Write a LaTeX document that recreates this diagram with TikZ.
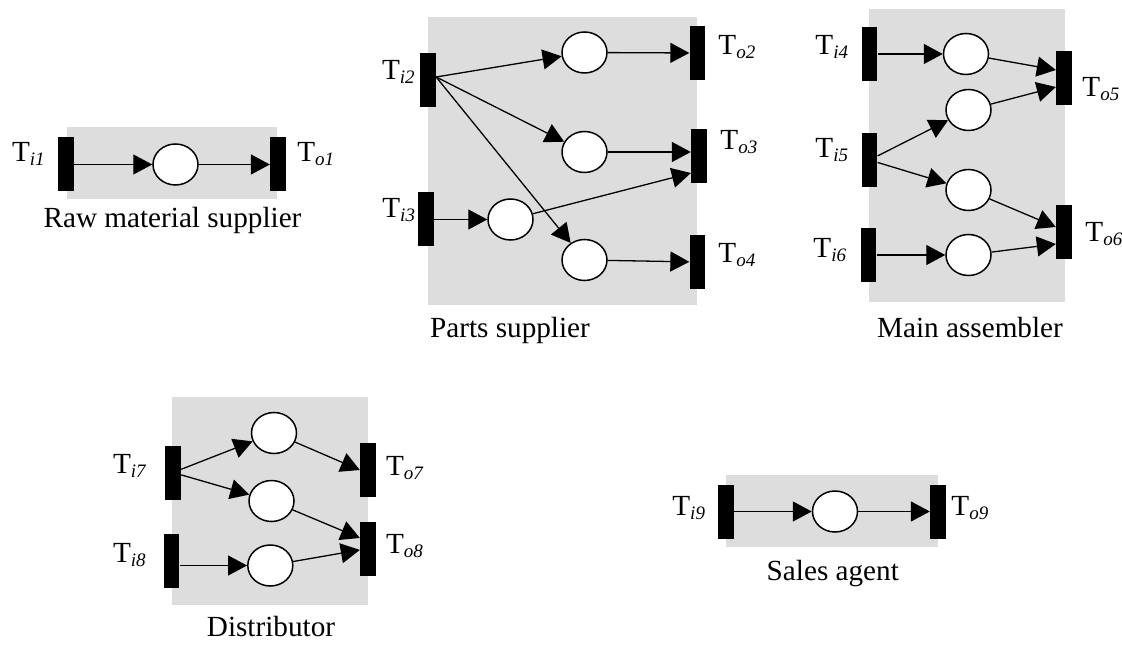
\documentclass[tikz,border=0pt]{standalone}
\usepackage{fontspec}
\setmainfont{Liberation Serif}
\usepackage{tikz}
\usetikzlibrary{arrows.meta,calc,shapes.geometric}
\definecolor{panelgray}{HTML}{DDDDDD}
\newcommand\subix[1]{\raisebox{-2pt}{\fontsize{9.5}{10}\selectfont\itshape #1}}
\tikzset{
  bar/.style={fill=black,draw=none,minimum width=7.75pt,minimum height=27pt,inner sep=0pt},
  place/.style={ellipse,draw,fill=white,line width=0.75pt,minimum width=22.5pt,minimum height=20.5pt,inner sep=0pt},
  flowarc/.style={-{Triangle[length=9.5pt,width=10pt]},line width=0.65pt},
  tlabel/.style={anchor=base west,inner sep=0pt},
  caption/.style={anchor=base,inner sep=0pt}
}

\begin{document}
\begin{tikzpicture}[x=0.5pt,y=-0.5pt,font=\fontsize{14.6}{17}\selectfont]
\useasboundingbox (0,0) rectangle (1122,646);
\fill[panelgray] (66.7,126.7) rectangle (276.7,199.3);
\fill[panelgray] (428.3,16.7) rectangle (696.7,305);
\fill[panelgray] (869,9) rectangle (1065,302);
\fill[panelgray] (171.7,396.7) rectangle (368.3,605);
\fill[panelgray] (726.4,475) rectangle (938,547.3);
\foreach \n/\x/\y in {ti1/66/164.5,to1/278/164.5,
  ti2/428/80,ti3/426/219.5,to2/697.5/53,to3/699/156,to4/697.5/262,
  ti4/869.5/54,ti5/869.5/160,ti6/868.5/255,to5/1064/78.5,to6/1064/232,
  ti7/173/472.5,ti8/171.5/560.5,to7/368/470,to8/368/548.5,
  ti9/726/511.5,to9/938/511.5}
  \node[bar] (\n) at (\x,\y) {};
\foreach \n/\x/\y in {p1/175.5/164.5,
  po2/584.5/52.5,po3/584.5/152,pi3/510.5/219.5,po4/584.5/260,
  p4/966/54,p5a/968.5/110,p5b/968.5/190,p6/968.5/255,
  p7a/274/433,p7b/271.5/501,p8/270.3/565.5,
  p9/835/511.5}
  \node[place] (\n) at (\x,\y) {};
\foreach \s/\x/\y in {i1/11.7/162,o1/297/162,i2/381.7/80,i3/382/218,
  o2/718/55,o3/720/150,o4/718/263,i4/815/55,i5/815/158,i6/813/257,
  o5/1082/97,o6/1085/242,i7/112.6/473,i8/112.6/562,o7/385.6/475,
  o8/385.6/553,i9/672/515,o9/951/515}
  \node[tlabel] (lab\s) at (\x,\y) {T\subix{\s}};
\node[caption] (raw) at (172.5,228) {Raw material supplier};
\node[caption] (parts) at (510,337) {Parts supplier};
\node[caption] (main) at (970,337) {Main assembler};
\node[caption] (dist) at (271,636) {Distributor};
\node[caption] (sales) at (832.8,580) {Sales agent};
\coordinate (s2) at ($(ti2.east)+(0,-3)$);
\foreach \a/\b in {ti1/p1,p1/to1,s2/po2,s2/po3,s2/po4,ti3/pi3,po2/to2,po4/to4,
  ti4/p4,ti5/p5a,ti5/p5b,ti6/p6,ti7/p7a,ti7/p7b,p8/to8,ti9/p9,p9/to9}
  \draw[flowarc] (\a) -- (\b);
\draw[flowarc] (po3) -- (po3 -| to3.west);
\draw[flowarc] (pi3) -- ($(to3.west)+(0,17)$);
\draw[flowarc] (p4) -- ($(to5.west)+(0,-8.5)$);
\draw[flowarc] (p5a) -- ($(to5.west)+(0,8.5)$);
\draw[flowarc] (p5b) -- ($(to6.west)+(0,-5)$);
\draw[flowarc] (p6) -- ($(to6.west)+(0,12)$);
\draw[flowarc] (p7a) -- (to7.west);
\draw[flowarc] (p7b) -- ($(to8.west)+(0,-10.5)$);
\draw[flowarc] (ti8.east |- p8) -- (p8);
\end{tikzpicture}
\end{document}
